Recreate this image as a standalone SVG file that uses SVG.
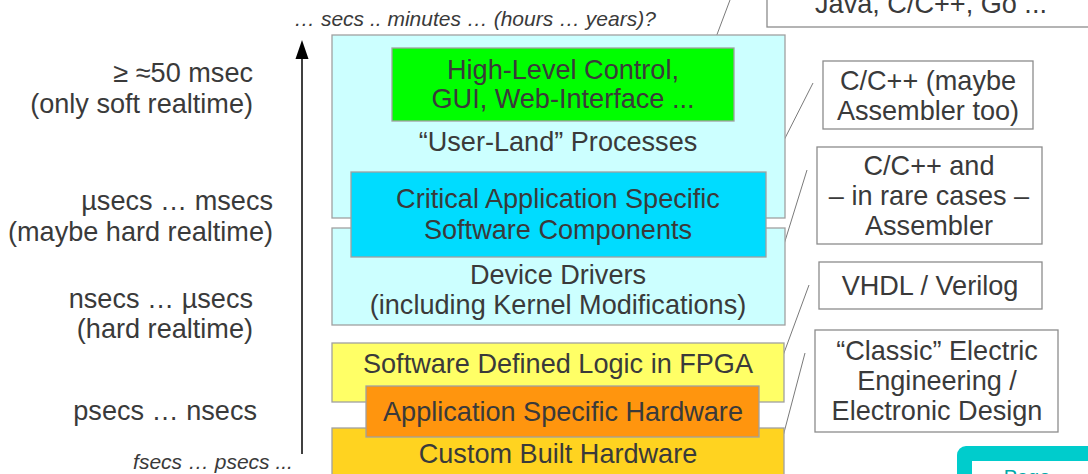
<svg xmlns="http://www.w3.org/2000/svg" width="1088" height="474" viewBox="0 0 1088 474">
<style>
text{font-family:"Liberation Sans",Arial,sans-serif;fill:#3a3a3a;}
.m{font-size:27.1px;text-anchor:middle;}
.l{font-size:27.1px;text-anchor:end;}
.i{font-size:21px;font-style:italic;text-anchor:middle;}
.box{stroke:#a0a0a0;stroke-width:1.3;}
.note{fill:#fff;stroke:#8c8c8c;stroke-width:1.3;}
.c{stroke:#7a7a7a;stroke-width:1;fill:none;}
</style>
<rect width="1088" height="474" fill="#fff"/>

<g id="time-axis-labels">
<text class="i" x="475" y="26">… secs .. minutes … (hours … years)?</text>
<text class="i" x="213" y="469">fsecs … psecs ...</text>
<text class="l" x="253" y="82">≥ ≈50 msec</text>
<text class="l" x="253" y="113">(only soft realtime)</text>
<text class="l" x="273" y="210">µsecs … msecs</text>
<text class="l" x="273" y="241">(maybe hard realtime)</text>
<text class="l" x="253" y="308">nsecs … µsecs</text>
<text class="l" x="253" y="338">(hard realtime)</text>
<text class="l" x="257" y="420">psecs … nsecs</text>
</g>

<g id="connectors">
<line x1="302" y1="454" x2="302" y2="56" stroke="#000" stroke-width="1.5"/>
<polygon points="295.5,59 302,40 308.5,59" fill="#000"/>
<line class="c" x1="730" y1="0" x2="704" y2="69"/>
<line class="c" x1="813" y1="83" x2="779" y2="150"/>
<line class="c" x1="807" y1="170" x2="777" y2="267"/>
<line class="c" x1="809" y1="285" x2="781" y2="361"/>
<line class="c" x1="805" y1="353" x2="781" y2="444"/>
</g>

<g id="user-land">
<rect class="box" x="332" y="35" width="453" height="183" fill="#ccffff"/>
<text class="m" x="558" y="151">“User-Land” Processes</text>
</g>
<g id="high-level">
<rect class="box" x="392" y="48" width="342" height="73" fill="#00ff00"/>
<text class="m" x="563" y="79">High-Level Control,</text>
<text class="m" x="563" y="108">GUI, Web-Interface ...</text>
</g>
<g id="device-drivers">
<rect class="box" x="332" y="228" width="453" height="97" fill="#ccffff"/>
<text class="m" x="558" y="284">Device Drivers</text>
<text class="m" x="558" y="314">(including Kernel Modifications)</text>
</g>
<g id="critical">
<rect class="box" x="351" y="172" width="415" height="85" fill="#00dcff"/>
<text class="m" x="558" y="208">Critical Application Specific</text>
<text class="m" x="558" y="239">Software Components</text>
</g>
<g id="fpga">
<rect class="box" x="332" y="343" width="452" height="59" fill="#ffff66"/>
<text class="m" x="558" y="373">Software Defined Logic in FPGA</text>
</g>
<g id="custom-hw">
<rect class="box" x="332" y="428" width="452" height="60" fill="#ffd320"/>
<text class="m" x="558" y="463">Custom Built Hardware</text>
</g>
<g id="app-hw">
<rect class="box" x="366" y="386" width="393" height="51" fill="#ff950e"/>
<text class="m" x="563" y="421">Application Specific Hardware</text>
</g>

<g id="note-java">
<rect class="note" x="767" y="-20" width="340" height="47"/>
<text class="m" x="931" y="13">Java, C/C++, Go ...</text>
</g>
<g id="note-cpp-asm">
<rect class="note" x="823" y="61" width="210" height="68"/>
<text class="m" x="928" y="90">C/C++ (maybe</text>
<text class="m" x="928" y="120">Assembler too)</text>
</g>
<g id="note-cpp-rare">
<rect class="note" x="817" y="147" width="225" height="97"/>
<text class="m" x="929" y="175">C/C++ and</text>
<text class="m" x="929" y="205">– in rare cases –</text>
<text class="m" x="929" y="235">Assembler</text>
</g>
<g id="note-vhdl">
<rect class="note" x="819" y="262" width="223" height="47"/>
<text class="m" x="930" y="295">VHDL / Verilog</text>
</g>
<g id="note-classic">
<rect class="note" x="815" y="330" width="243" height="102"/>
<text class="m" x="937" y="360">“Classic” Electric</text>
<text class="m" x="937" y="390">Engineering /</text>
<text class="m" x="937" y="420">Electronic Design</text>
</g>

<g id="page-button">
<rect x="957" y="446" width="160" height="60" rx="9" fill="#00cccc"/>
<rect x="972" y="461" width="140" height="40" fill="#fff"/>
<text x="1027" y="484" style="font-size:20px;text-anchor:middle;fill:#00aaaa">Page</text>
</g>
</svg>
